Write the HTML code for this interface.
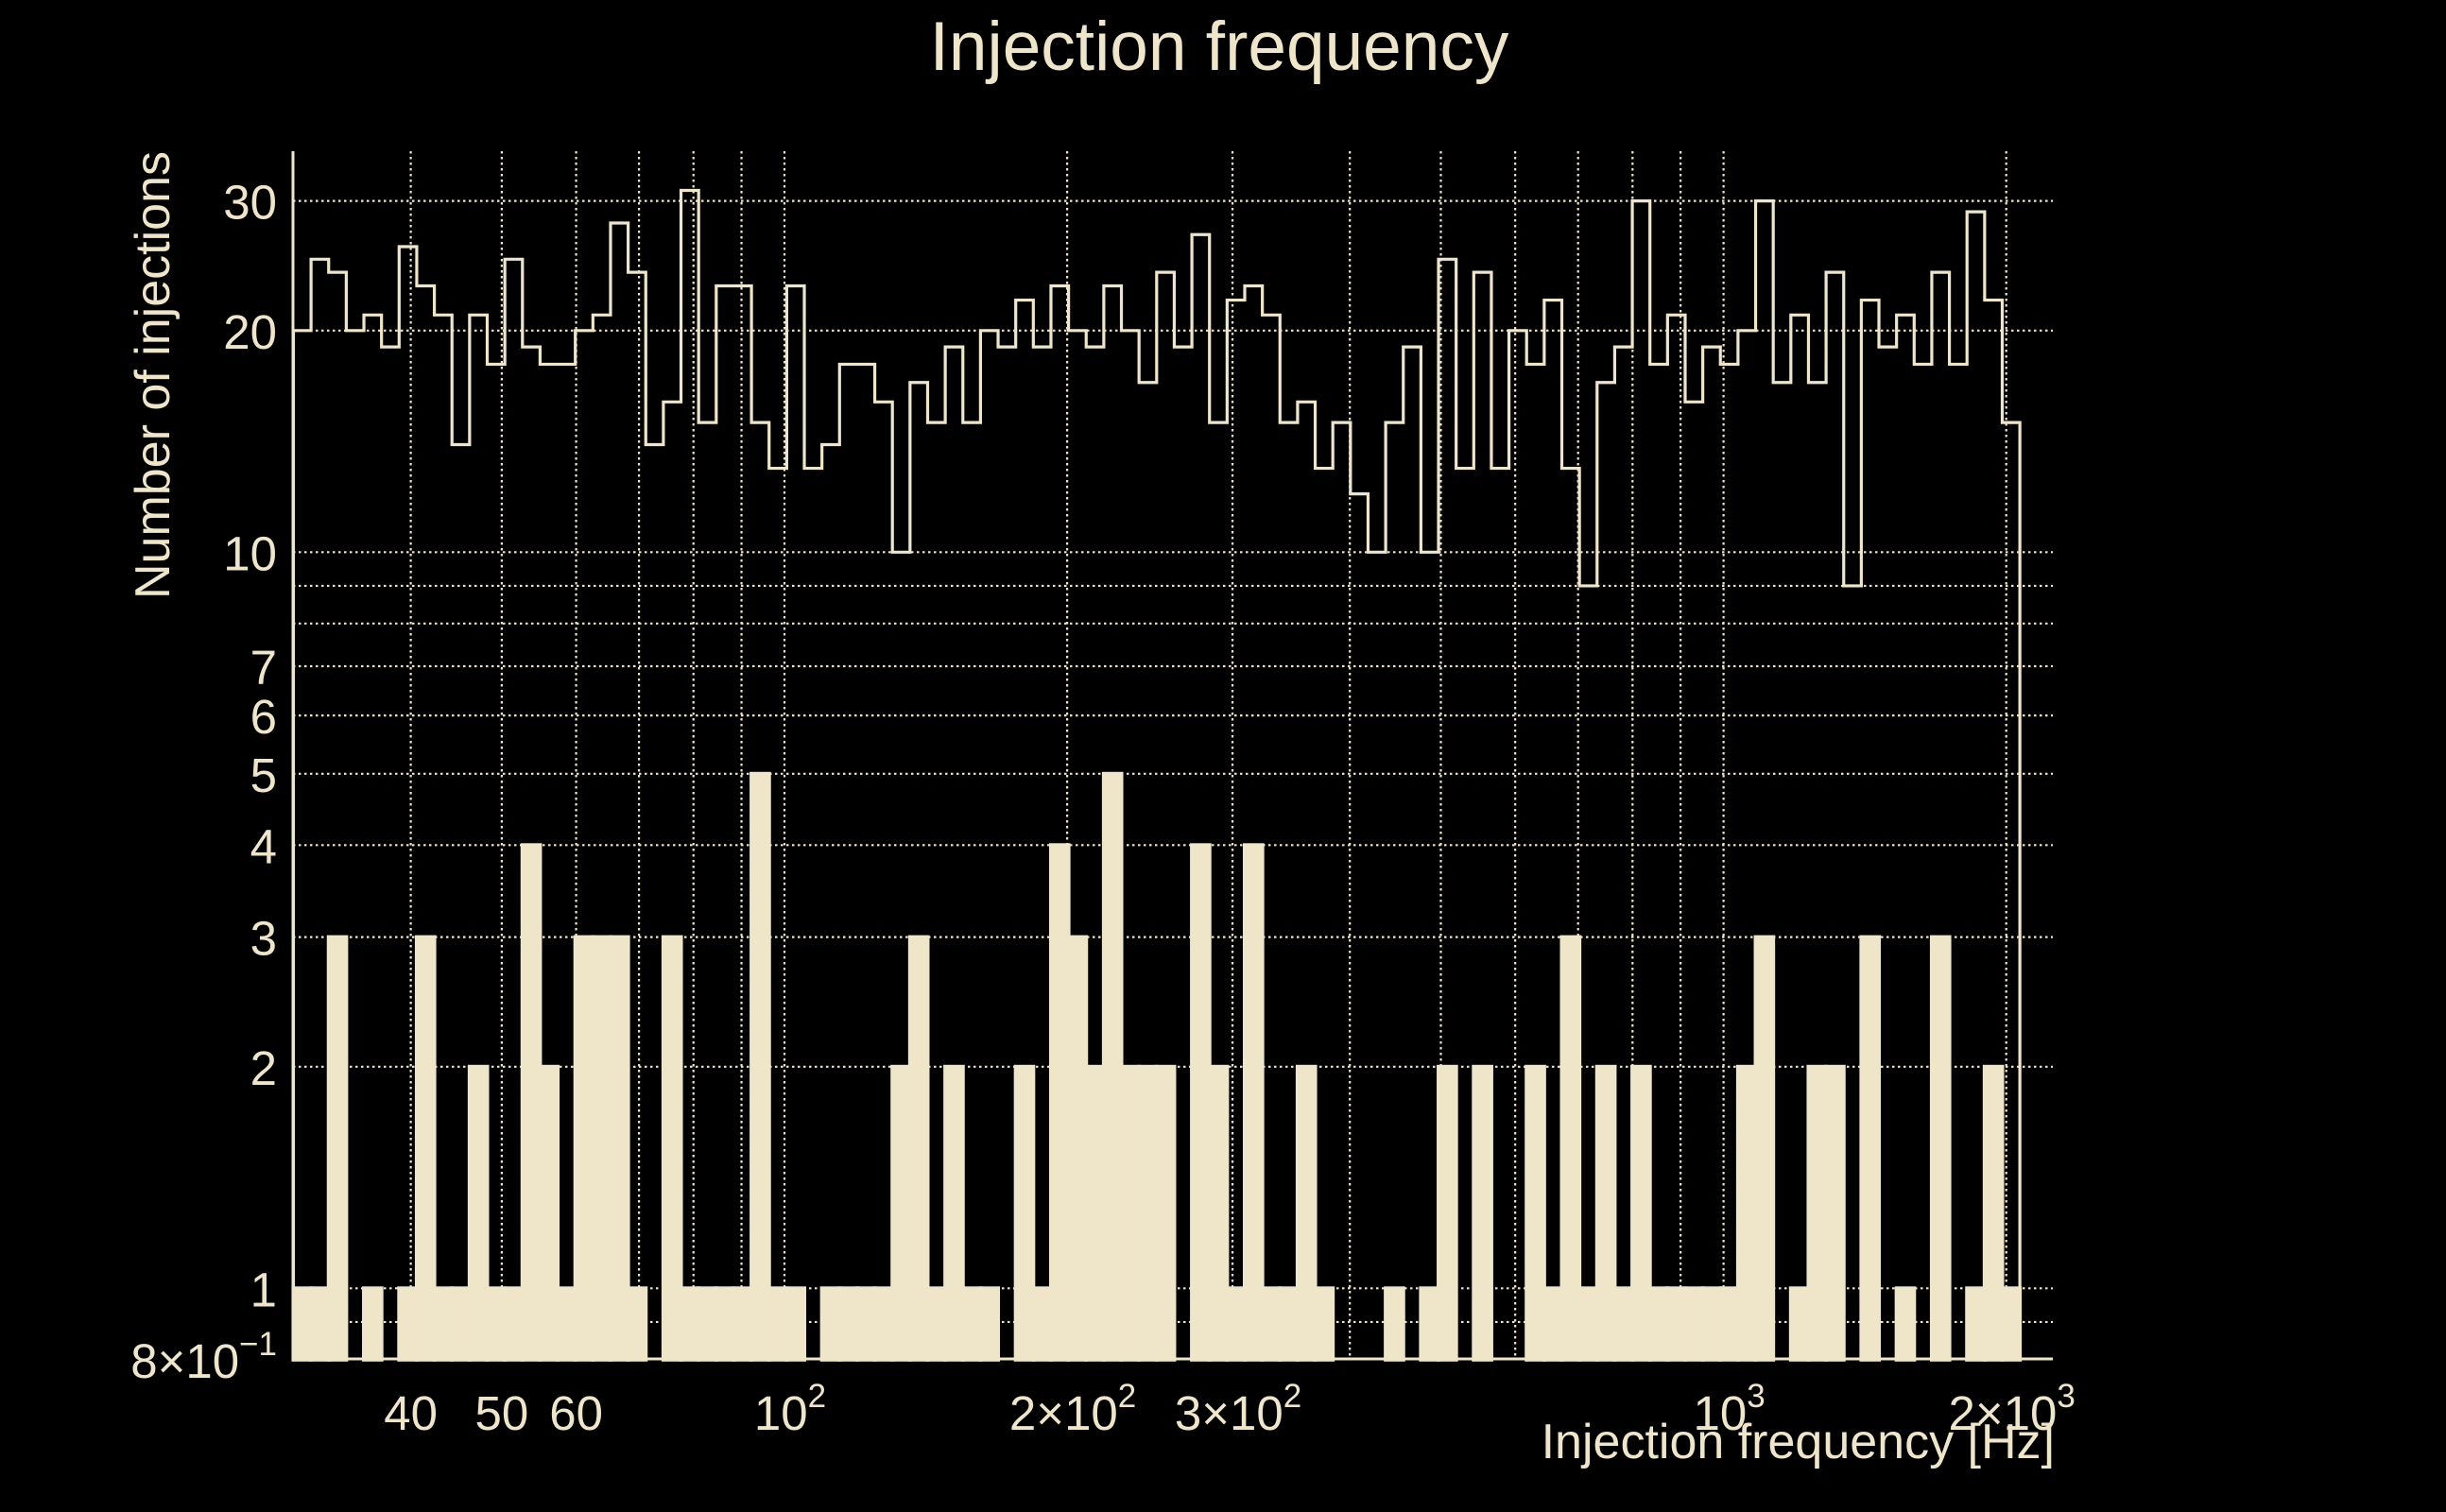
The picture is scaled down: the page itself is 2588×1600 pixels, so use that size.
<!DOCTYPE html>
<html>
<head>
<meta charset="utf-8">
<style>
  html,body{margin:0;padding:0;background:#000;}
  svg{display:block;}
  text{font-family:"Liberation Sans",sans-serif;fill:#efe5c8;}
</style>
</head>
<body>
<svg id="chart" xmlns="http://www.w3.org/2000/svg" width="2588" height="1600" viewBox="0 0 2588 1600">
  <rect x="0" y="0" width="2588" height="1600" fill="#000"/>
  <g id="grid"></g>
  <g id="bars"></g>
  <g id="steps"></g>
  <g id="axes"></g>
  <text x="1290" y="74" font-size="73" text-anchor="middle">Injection frequency</text>
  <text x="2174" y="1543" font-size="52" text-anchor="end">Injection frequency [Hz]</text>
  <text transform="translate(179,160) rotate(-90)" font-size="52" text-anchor="end">Number of injections</text>
</svg>
<script>
const fMin = 30;
const fMax = 2068;
const stepCounts = [20,25,24,20,21,19,26,23,21,14,21,18,25,19,18,18,20,21,28,24,14,16,31,15,23,
  23,15,13,23,13,14,18,18,16,10,17,15,19,15,20,19,22,19,23,20,19,23,20,17,24,
  19,27,15,22,23,21,15,16,13,15,12,10,15,19,10,25,13,24,13,20,18,22,13,9,17,
  19,30,18,21,16,19,18,20,30,17,21,17,24,9,22,19,21,18,24,18,29,22,15];
const barCounts = [1,1,3,0,1,0,1,3,1,1,2,1,1,4,2,1,3,3,3,1,0,3,1,1,1,
  1,5,1,1,0,1,1,1,1,2,3,1,2,1,1,0,2,1,4,3,2,5,2,2,2,
  0,4,2,1,4,1,1,2,1,0,0,0,1,0,1,2,0,2,0,0,2,1,3,1,2,
  1,2,1,1,1,1,1,2,3,0,1,2,2,0,3,0,1,0,3,0,1,2,1];
const xGridValues = [40,50,60,70,80,90,100,200,300,400,500,600,700,800,900,1000,2000];
const xTickValues = [40,50,60,100,200,300,1000,2000];
const xTickMain = ["40","50","60","10","2\u00d710","3\u00d710","10","2\u00d710"];
const xTickSup = ["","","","2","2","2","3","3"];
const yGridValues = [0.9,1,2,3,4,5,6,7,8,9,10,20,30];
const yTickValues = [0.8,1,2,3,4,5,6,7,10,20,30];
const yTickMain = ["8\u00d710","1","2","3","4","5","6","7","10","20","30"];
const yTickSup = ["\u22121","","","","","","","","","",""];

const NS = "http://www.w3.org/2000/svg";
const C = "#efe5c8";
const PL = 310, PR = 2172, PT = 160, PB = 1438;
function xs(f){ return 830 + 993.6*Math.log10(f/100); }
function ys(v){ return 1363.3 - 779*Math.log10(v); }
function mk(tag, attrs){ const e=document.createElementNS(NS,tag); for(const k in attrs) e.setAttribute(k,attrs[k]); return e; }

const n = stepCounts.length;
const lr = Math.log10(fMax/fMin);
function edge(i){ return fMin*Math.pow(10, lr*i/n); }

const grid = document.getElementById('grid');
xGridValues.forEach(f=>{
  const l = mk('line',{x1:xs(f),x2:xs(f),y1:PT,y2:PB,stroke:C,'stroke-width':2.2,'stroke-dasharray':'2.5 3.5'});
  
  
  grid.appendChild(l);
});
yGridValues.forEach(v=>{
  const l = mk('line',{x1:PL,x2:PR,y1:ys(v),y2:ys(v),stroke:C,'stroke-width':2.2,'stroke-dasharray':'2.5 3.5'});
  
  
  grid.appendChild(l);
});

const bars = document.getElementById('bars');
const yBase = ys(0.8);
barCounts.forEach((v,i)=>{
  if(v<=0) return;
  const x0 = xs(edge(i)), x1 = xs(edge(i+1));
  const y = ys(v);
  const r = mk('rect',{x:x0,y:y,width:x1-x0,height:yBase-y,fill:C,stroke:C,'stroke-width':4});
  
  
  bars.appendChild(r);
});

const steps = document.getElementById('steps');
let d = 'M'+xs(edge(0))+','+yBase;
stepCounts.forEach((v,i)=>{
  const y = ys(v);
  d += ' L'+xs(edge(i))+','+y+' L'+xs(edge(i+1))+','+y;
});
d += ' L'+xs(edge(n))+','+yBase;
const p = mk('path',{d:d,fill:'none',stroke:C,'stroke-width':3.2,'stroke-linejoin':'miter'});


steps.appendChild(p);

const axes = document.getElementById('axes');
const ly = mk('line',{x1:PL,x2:PL,y1:PT,y2:PB+1.5,stroke:C,'stroke-width':3});


axes.appendChild(ly);
const lx = mk('line',{x1:PL,x2:PR,y1:PB,y2:PB,stroke:C,'stroke-width':3});


axes.appendChild(lx);

function label(x,y,main,sup,anchor){
  const t = mk('text',{x:x,y:y,'font-size':51,'text-anchor':anchor});
  t.appendChild(document.createTextNode(main));
  if(sup){
    const s = mk('tspan',{'font-size':35,dy:-24});
    s.textContent = sup;
    t.appendChild(s);
  }
  return t;
}
xTickValues.forEach((f,i)=>{
  const t = label(xs(f)+(xTickSup[i]?6:0),1513,xTickMain[i],xTickSup[i],'middle');
  
  
  axes.appendChild(t);
});
yTickValues.forEach((v,i)=>{
  const t = label(293,ys(v)+19,yTickMain[i],yTickSup[i],'end');
  
  
  axes.appendChild(t);
});
</script>
</body>
</html>
